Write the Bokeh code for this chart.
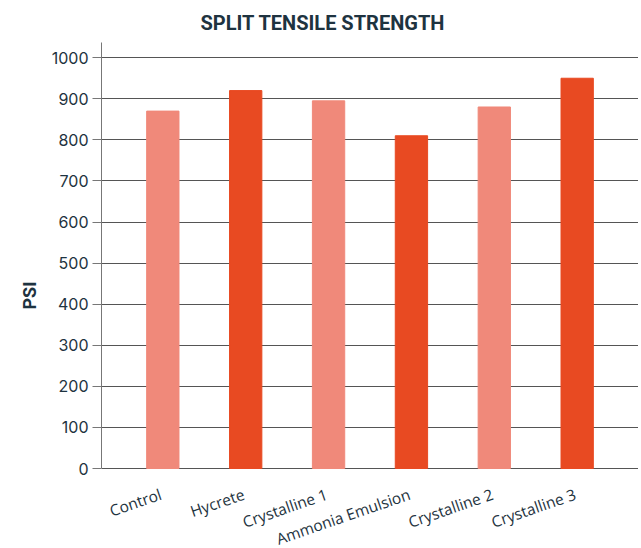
import math
from bokeh.plotting import figure
from bokeh.models import ColumnDataSource, FactorRange, Range1d
from bokeh.core.properties import value
from bokeh.embed import file_html
from bokeh.resources import INLINE

categories = ["Control", "Hycrete", "Crystalline 1", "Ammonia Emulsion", "Crystalline 2", "Crystalline 3"]
psi = [870, 920, 895, 810, 880, 950]
colors = ["#F0897A", "#E84A22", "#F0897A", "#E84A22", "#F0897A", "#E84A22"]
y_ticks = [0, 100, 200, 300, 400, 500, 600, 700, 800, 900, 1000]

TEXT = "#1e3340"

src = ColumnDataSource(dict(cat=categories, psi=psi, color=colors))

# frame: 0 at 468px, 1037 at 42px -> 80px below zero reserved for labels
Y_TOP = 1037
Y_BOTTOM = -80 * Y_TOP / 426

p = figure(
    x_range=FactorRange(factors=categories, range_padding=0.24, range_padding_units="absolute"),
    y_range=Range1d(Y_BOTTOM, Y_TOP),
    width=638, height=548,
    output_backend="svg", toolbar_location=None,
    min_border_left=101, min_border_right=0, min_border_top=42, min_border_bottom=0,
)
p.vbar(x="cat", top="psi", width=0.39, color="color", source=src)

p.text(x="cat", y=0, text="cat", source=src,
       x_offset=-2, y_offset=25, angle=math.radians(19),
       text_align="right", text_baseline="alphabetic",
       text_font=value("Open Sans"), text_font_size=value("15.5px"),
       text_color=TEXT)

p.title.text = "SPLIT TENSILE STRENGTH"
p.title.align = "left"
p.title.offset = 99
p.title.text_font = "Roboto"
p.title.text_font_style = "bold"
p.title.text_font_size = "20px"
p.title.text_color = TEXT
p.title.standoff = 16

p.outline_line_color = None
p.xgrid.grid_line_color = None
p.ygrid.grid_line_color = "#555555"
p.ygrid.grid_line_width = 1
p.yaxis.ticker = y_ticks
p.yaxis.bounds = (0, Y_TOP)
p.xaxis.visible = False

ax = p.yaxis[0]
ax.axis_line_color = "#777777"
ax.major_tick_line_color = "#777777"
ax.minor_tick_line_color = None
ax.major_label_text_font = "Inter"
ax.major_label_text_color = TEXT
ax.major_tick_in = 0
ax.major_tick_out = 9
ax.major_label_text_font_size = "16px"
ax.major_label_standoff = 4
ax.axis_label = "PSI"
ax.axis_label_text_font = "Roboto"
ax.axis_label_text_font_style = "bold"
ax.axis_label_text_font_size = "18px"
ax.axis_label_text_color = TEXT
ax.axis_label_standoff = 9

open("out.html", "w").write(file_html(p, INLINE))
